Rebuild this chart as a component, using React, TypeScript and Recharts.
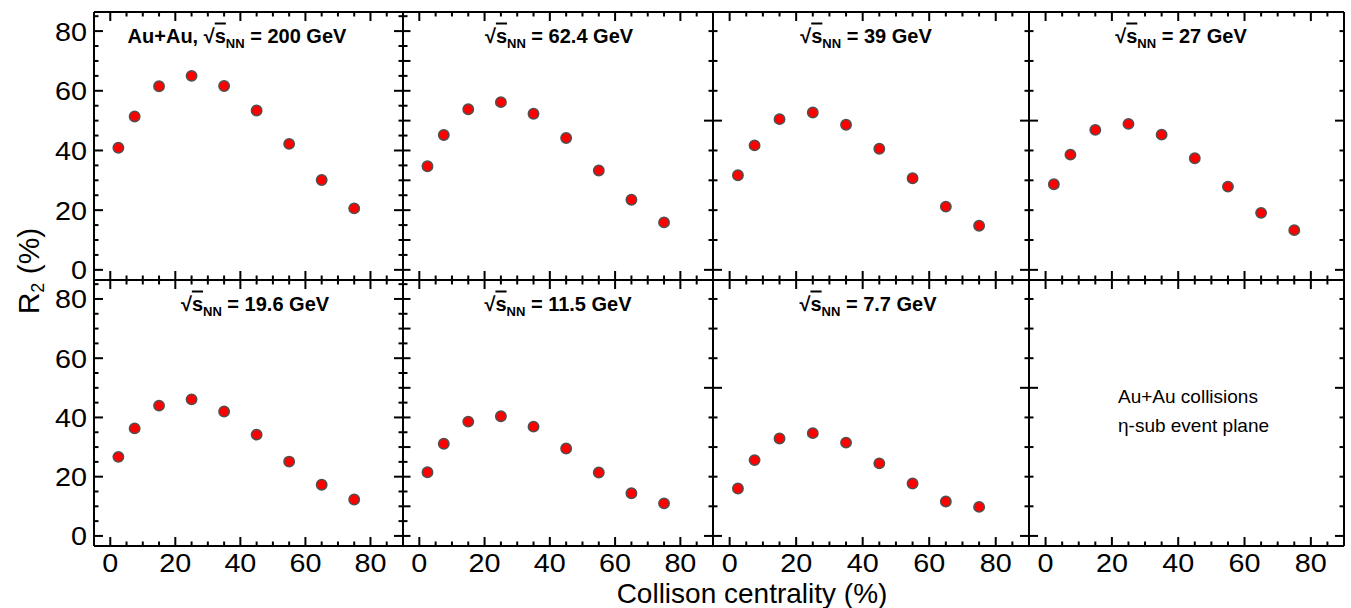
import { Scatter, ScatterChart, XAxis, YAxis } from "recharts";

// centrality bin centres (%)
const CENTRALITY = [2.5, 7.5, 15, 25, 35, 45, 55, 65, 75];

// R2 (%) per beam energy
const R2_200 = [40.9, 51.4, 61.5, 65.0, 61.6, 53.4, 42.2, 30.1, 20.6];
const R2_62 = [34.7, 45.2, 53.8, 56.2, 52.3, 44.2, 33.3, 23.5, 15.9];
const R2_39 = [31.7, 41.7, 50.5, 52.7, 48.6, 40.6, 30.7, 21.2, 14.8];
const R2_27 = [28.7, 38.6, 46.9, 48.9, 45.3, 37.4, 27.9, 19.1, 13.3];
const R2_19 = [26.7, 36.3, 44.0, 46.1, 42.0, 34.2, 25.1, 17.3, 12.3];
const R2_11 = [21.5, 31.1, 38.6, 40.4, 36.9, 29.5, 21.4, 14.4, 11.0];
const R2_7 = [16.0, 25.6, 32.9, 34.7, 31.5, 24.5, 17.7, 11.6, 9.8];

const SERIES = [R2_200, R2_62, R2_39, R2_27, R2_19, R2_11, R2_7];
const ENERGIES = ["200", "62.4", "39", "27", "19.6", "11.5", "7.7"];

const X_TICKS = [0, 5, 10, 15, 20, 25, 30, 35, 40, 45, 50, 55, 60, 65, 70, 75, 80, 85];
const Y_TICKS_FINE = [0, 5, 10, 15, 20, 25, 30, 35, 40, 45, 50, 55, 60, 65, 70, 75, 80, 85];
const Y_TICKS_COARSE = [0, 10, 20, 30, 40, 50, 60, 70, 80];
const X_DOMAIN: [number, number] = [-5, 90];
const Y_DOMAIN: [number, number] = [-3.4, 86.4];

const FONT = '"Liberation Sans", Arial, Helvetica, sans-serif';

// plot-area layout
const COL_X = [94, 403, 713, 1029];
const COL_W = [309, 310, 316, 315];
const ROW_Y = [12, 280];
const ROW_H = [268, 266];
const PAD = { top: 12, right: 12, bottom: 40, left: 72 };
// axes are 1px thick in the layout, so the margin is one less
const M = { top: PAD.top - 1, right: PAD.right - 1, bottom: PAD.bottom - 1, left: PAD.left - 1 };
const TITLE_X = [237, 559, 866, 1181, 255, 558, 868];

type YStyle = "a" | "b" | "c";

function xTick(side: "top" | "bottom", labels: boolean) {
  return (props: any) => {
    const { x, y, payload } = props;
    const v = payload.value;
    const major = v % 20 === 0;
    const len = major ? 9 : 4.5;
    const dir = side === "bottom" ? -1 : 1;
    return (
      <g>
        <line x1={x} x2={x} y1={y} y2={y + dir * len} stroke="#000" strokeWidth={2} />
        {labels && major && (
          <text
            transform={`translate(${x},${y + 26}) scale(1.15,1)`}
            textAnchor="middle"
            fontSize={25}
            fontFamily={FONT}
            fill="#000"
          >
            {v}
          </text>
        )}
      </g>
    );
  };
}

function isMajorY(v: number, style: YStyle) {
  if (style === "a") return v % 20 === 0;
  if (style === "b") return v % 10 === 0;
  return v === 0 || v === 50;
}

function yTick(side: "left" | "right", style: YStyle, labels: boolean) {
  return (props: any) => {
    const { x, y, payload } = props;
    const v = payload.value;
    const major = isMajorY(v, style);
    const len = major ? (style === "b" ? 7.5 : 9) : 4.5;
    const dir = side === "left" ? 1 : -1;
    return (
      <g>
        <line x1={x} x2={x + dir * len} y1={y} y2={y} stroke="#000" strokeWidth={2} />
        {labels && v % 20 === 0 && (
          <text
            transform={`translate(${x - 7},${y + 9.5}) scale(1.15,1)`}
            textAnchor="end"
            fontSize={25}
            fontFamily={FONT}
            fill="#000"
          >
            {v}
          </text>
        )}
      </g>
    );
  };
}

function Dot(props: any) {
  return <circle cx={props.cx} cy={props.cy} r={5.2} fill="#ff0000" stroke="#505050" strokeWidth={1.5} />;
}

function Panel({ index }: { index: number }) {
  const col = index % 4;
  const row = Math.floor(index / 4);
  const values = SERIES[index] ?? [];
  const data = values.map((v, i) => ({ x: CENTRALITY[i], y: v }));
  const leftStyle: YStyle = col === 0 ? "a" : col === 1 ? "b" : "c";
  const rightStyle: YStyle = col === 0 ? "a" : "c";
  const axisLine = { stroke: "#000", strokeWidth: 2 };

  return (
    <div style={{ position: "absolute", left: COL_X[col] - PAD.left, top: ROW_Y[row] - PAD.top }}>
      <ScatterChart
        width={COL_W[col] + PAD.left + PAD.right}
        height={ROW_H[row] + PAD.top + PAD.bottom}
        margin={M}
      >
        <XAxis
          xAxisId="b"
          type="number"
          dataKey="x"
          orientation="bottom"
          domain={X_DOMAIN}
          allowDataOverflow
          ticks={X_TICKS}
          interval={0}
          height={1}
          tickSize={0}
          tickMargin={0}
          tickLine={false}
          stroke="#000"
          axisLine={axisLine}
          tick={xTick("bottom", row === 1)}
        />
        <XAxis
          xAxisId="t"
          type="number"
          dataKey="x"
          orientation="top"
          domain={X_DOMAIN}
          allowDataOverflow
          ticks={X_TICKS}
          interval={0}
          height={1}
          tickSize={0}
          tickMargin={0}
          tickLine={false}
          stroke="#000"
          axisLine={axisLine}
          tick={xTick("top", false)}
        />
        <YAxis
          yAxisId="l"
          type="number"
          dataKey="y"
          orientation="left"
          domain={Y_DOMAIN}
          allowDataOverflow
          ticks={leftStyle === "c" ? Y_TICKS_COARSE : Y_TICKS_FINE}
          interval={0}
          width={1}
          tickSize={0}
          tickMargin={0}
          tickLine={false}
          stroke="#000"
          axisLine={axisLine}
          tick={yTick("left", leftStyle, col === 0)}
        />
        <YAxis
          yAxisId="r"
          type="number"
          dataKey="y"
          orientation="right"
          domain={Y_DOMAIN}
          allowDataOverflow
          ticks={rightStyle === "c" ? Y_TICKS_COARSE : Y_TICKS_FINE}
          interval={0}
          width={1}
          tickSize={0}
          tickMargin={0}
          tickLine={false}
          stroke="#000"
          axisLine={axisLine}
          tick={yTick("right", rightStyle, false)}
        />
        <Scatter xAxisId="b" yAxisId="l" data={data} shape={Dot} isAnimationActive={false} />
      </ScatterChart>
    </div>
  );
}

function Title({ index }: { index: number }) {
  const row = Math.floor(index / 4);
  return (
    <text
      x={TITLE_X[index]}
      y={ROW_Y[row] + 30.5}
      textAnchor="middle"
      fontSize={20}
      fontWeight="bold"
      fontFamily={FONT}
      fill="#000"
    >
      {index === 0 ? "Au+Au, " : ""}√<tspan textDecoration="overline">s</tspan>
      <tspan dy={5} fontSize={13}>NN</tspan>
      <tspan dy={-5}>{` = ${ENERGIES[index]} GeV`}</tspan>
    </text>
  );
}

export default function App() {
  const panels = [0, 1, 2, 3, 4, 5, 6, 7];
  return (
    <div style={{ position: "absolute", left: 0, top: 0, width: 1351, height: 608, background: "#fff" }}>
      {panels.map((i) => (
        <Panel key={i} index={i} />
      ))}
      <svg
        width={1351}
        height={608}
        style={{ position: "absolute", left: 0, top: 0, pointerEvents: "none" }}
      >
        {ENERGIES.map((_, i) => (
          <Title key={i} index={i} />
        ))}
        <text x={1118} y={403} fontSize={19} fontFamily={FONT} fill="#000">
          Au+Au collisions
        </text>
        <text x={1118} y={432} fontSize={19} fontFamily={FONT} fill="#000">
          η-sub event plane
        </text>
        <text x={752} y={603} textAnchor="middle" fontSize={28} fontFamily={FONT} fill="#000">
          Collison centrality (%)
        </text>
        <text
          transform="translate(39,271) rotate(-90)"
          textAnchor="middle"
          fontSize={30}
          fontFamily={FONT}
          fill="#000"
        >
          R<tspan dy={5} fontSize={18}>2</tspan>
          <tspan dy={-5}> (%)</tspan>
        </text>
      </svg>
    </div>
  );
}
